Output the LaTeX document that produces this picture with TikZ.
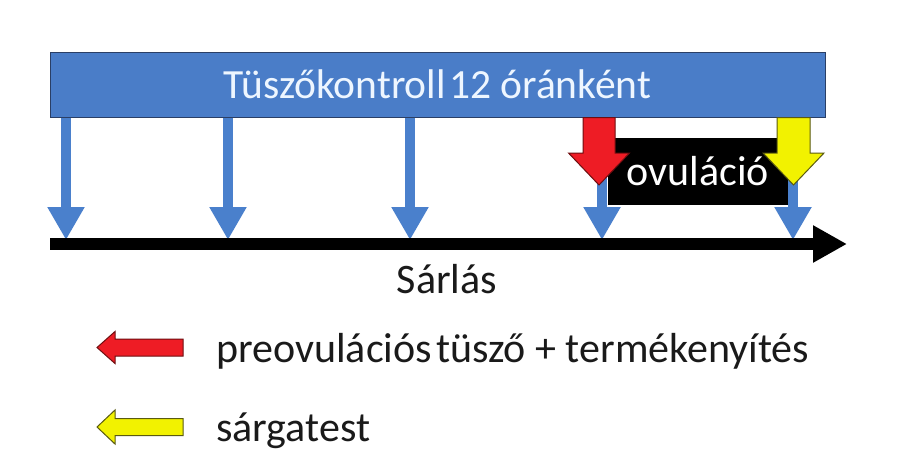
\documentclass[tikz,border=0pt]{standalone}
\usepackage{fontspec}
\setmainfont{Carlito}
\usetikzlibrary{arrows.meta,calc}
\definecolor{barblue}{HTML}{4A7DC8}
\definecolor{barline}{HTML}{2A3F66}
\definecolor{arrblue}{HTML}{4A80CC}
\definecolor{ovred}{HTML}{EE1C25}
\definecolor{ovredline}{HTML}{6E0E10}
\definecolor{ovyellow}{HTML}{F2F200}
\definecolor{ovyellowline}{HTML}{5A5A10}
\definecolor{txtdark}{HTML}{1A1A1A}
\definecolor{txtlight}{HTML}{EEF6FF}
\begin{document}
\begin{tikzpicture}[x=1pt,y=-1pt,
  bar/.style={draw=barline, line width=1pt, fill=barblue, minimum width=775pt, minimum height=65pt, inner sep=0pt, text=txtlight, font=\fontsize{41.5}{46}\selectfont},
  bluearrow/.style={draw=arrblue, line width=10pt, -{Triangle[length=33pt, width=35pt]}},
  timeline/.style={draw=black, line width=12pt, -{Triangle[length=34pt, width=35pt]}},
  ovbox/.style={fill=black, minimum width=180pt, minimum height=67pt, inner sep=0pt, text=white, font=\fontsize{42}{46}\selectfont},
  lbl/.style={text=txtdark, font=\fontsize{42}{46}\selectfont, inner sep=0pt},
  redshape/.style={fill=ovred, draw=ovredline, line width=1pt, line join=miter},
  yellowshape/.style={fill=ovyellow, draw=ovyellowline, line width=1pt, line join=miter}]
\useasboundingbox (0,0) rectangle (913,472);
\fill[white] (0,0) rectangle (913,472);

% top bar
\node[bar] (bar) at (437.5,84.5) {Tüszőkontroll\hspace{0.08em}12 óránként};

% timeline coordinates
\coordinate (tl0) at (50,244);
\coordinate (tl1) at (847,244);
\coordinate (t1) at (66,240);
\coordinate (t2) at (228,240);
\coordinate (t3) at (410,240);
\coordinate (t4) at (602,240);
\coordinate (t5) at (793,240);

% blue arrows
\foreach \t in {t1,t2,t3,t4,t5}
  \draw[bluearrow] (bar.south -| \t) -- (\t);

% timeline
\draw[timeline] (tl0) -- (tl1);

% ovulation box
\node[ovbox] (ov) at (698,171.5) {ovuláció};

% red arrow
\coordinate (r0) at (599,117.5);
\coordinate (rt) at (599,185);
\draw[redshape] ($(r0)+(-16,0)$) -- ($(r0)+(16,0)$) -- ($(rt)+(16,-32)$) -- ($(rt)+(30.5,-32)$) -- (rt) -- ($(rt)+(-30.5,-32)$) -- ($(rt)+(-16,-32)$) -- cycle;

% yellow arrow
\coordinate (y0) at (793.5,117.5);
\coordinate (yt) at (793.5,185);
\draw[yellowshape] ($(y0)+(-16.5,0)$) -- ($(y0)+(16.5,0)$) -- ($(yt)+(16.5,-32)$) -- ($(yt)+(30.5,-32)$) -- (yt) -- ($(yt)+(-30.5,-32)$) -- ($(yt)+(-16.5,-32)$) -- cycle;

% Sarlas label
\node[lbl, anchor=base] (sarlas) at (447,293) {Sárlás};

% legend
\coordinate (lr) at (97,347.5);
\draw[redshape] (lr) -- ($(lr)+(18,-16)$) -- ($(lr)+(18,-8.5)$) -- ($(lr)+(86,-8.5)$) -- ($(lr)+(86,8.5)$) -- ($(lr)+(18,8.5)$) -- ($(lr)+(18,16)$) -- cycle;
\node[lbl, anchor=base west] (leg1) at (216,362) {preovulációs\hspace{0.1em}tüsző + termékenyítés};

\coordinate (ly) at (97,427);
\draw[yellowshape] (ly) -- ($(ly)+(18,-17)$) -- ($(ly)+(18,-8.5)$) -- ($(ly)+(86,-8.5)$) -- ($(ly)+(86,8.5)$) -- ($(ly)+(18,8.5)$) -- ($(ly)+(18,17)$) -- cycle;
\node[lbl, anchor=base west] (leg2) at (216,441) {sárgatest};
\end{tikzpicture}
\end{document}
